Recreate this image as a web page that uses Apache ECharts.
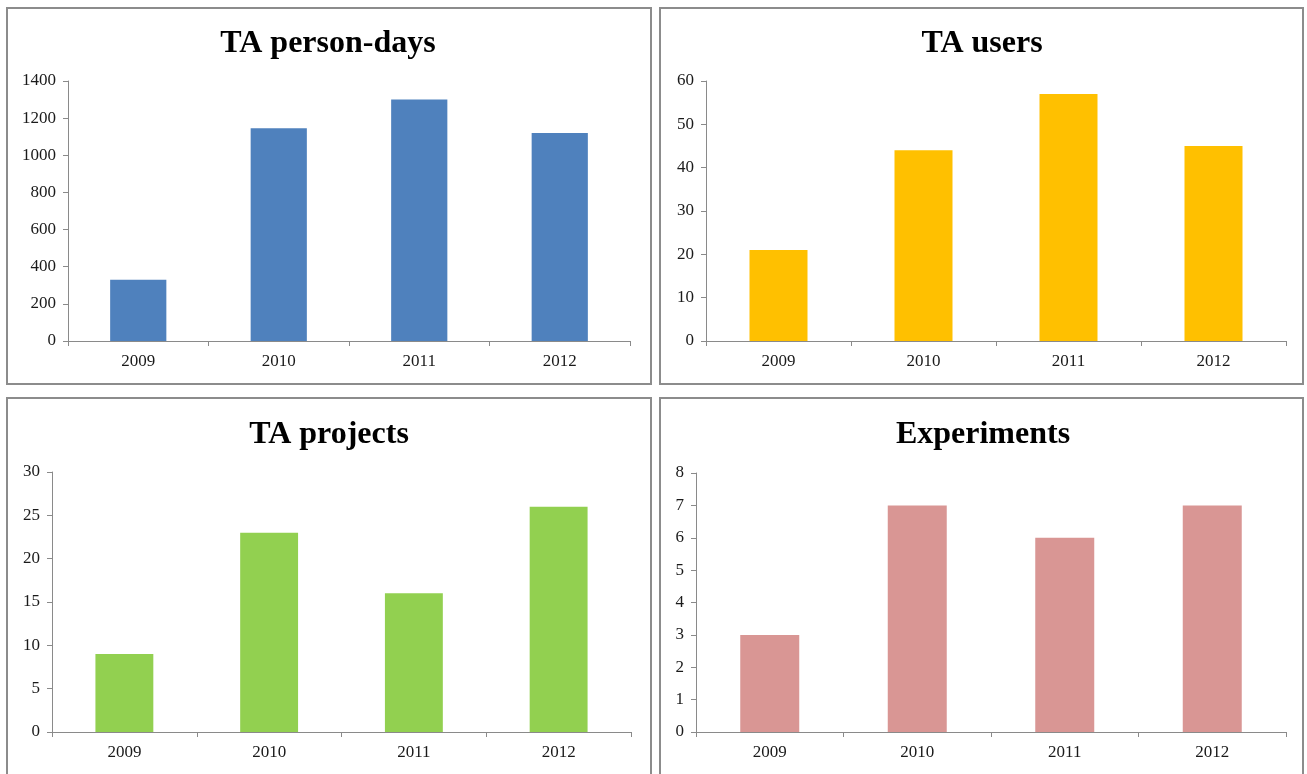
<!DOCTYPE html>
<html>
<head>
<meta charset="utf-8">
<script src="https://cdn.jsdelivr.net/npm/echarts@6/dist/echarts.min.js"></script>
<style>
html,body{margin:0;padding:0;background:#fff;}
#chart{width:1307px;height:774px;}
</style>
</head>
<body>
<div id="chart"></div>
<script>
var years = ['2009', '2010', '2011', '2012'];
var personDays = [330, 1145, 1300, 1120];
var users = [21, 44, 57, 45];
var projects = [9, 23, 16, 26];
var experiments = [3, 7, 6, 7];
var titles = ['TA person-days', 'TA users', 'TA projects', 'Experiments'];
var yMax = [1400, 60, 30, 8];
var yStep = [200, 10, 5, 1];

var seriesData = [personDays, users, projects, experiments];
var colors = ['#4F81BD', '#FFC000', '#92D050', '#D99694'];
var grids = [
  {left: 68, top: 81, width: 562, height: 260},
  {left: 706, top: 81, width: 580, height: 260},
  {left: 52, top: 472, width: 579, height: 260},
  {left: 696, top: 473, width: 590, height: 259}
];
var panels = [
  {x: 7, y: 8, w: 644, h: 376, cx: 328, ty: 42},
  {x: 660, y: 8, w: 643, h: 376, cx: 982, ty: 42},
  {x: 7, y: 398, w: 644, h: 420, cx: 329, ty: 433},
  {x: 660, y: 398, w: 643, h: 420, cx: 983, ty: 433}
];
var serif = '"Liberation Serif", "DejaVu Serif", serif';
var axisCol = '#8a8a8a';

var xAxes = [], yAxes = [], series = [], graphics = [];
for (var i = 0; i < 4; i++) {
  xAxes.push({
    type: 'category', gridIndex: i, data: years,
    axisLine: {lineStyle: {color: axisCol, width: 1}},
    axisTick: {show: true, length: 5, lineStyle: {color: axisCol}},
    axisLabel: {fontFamily: serif, fontSize: 17, color: '#1a1a1a', margin: 12}
  });
  yAxes.push({
    type: 'value', gridIndex: i, min: 0, max: yMax[i], interval: yStep[i],
    splitLine: {show: false},
    axisLine: {show: true, lineStyle: {color: axisCol, width: 1}},
    axisTick: {show: true, length: 5, lineStyle: {color: axisCol}},
    axisLabel: {fontFamily: serif, fontSize: 17, color: '#1a1a1a', margin: 12,
                formatter: function (v) { return String(v); }}
  });
  series.push({
    type: 'bar', xAxisIndex: i, yAxisIndex: i, data: seriesData[i],
    barWidth: '40%', itemStyle: {color: colors[i]}, silent: true
  });
  var p = panels[i];
  graphics.push({
    type: 'rect', shape: {x: p.x, y: p.y, width: p.w, height: p.h},
    style: {fill: null, stroke: '#8c8c8c', lineWidth: 2}, silent: true
  });
  graphics.push({
    type: 'text', x: p.cx, y: p.ty + 2,
    style: {text: titles[i], font: 'bold 32px ' + serif, fill: '#000',
            textAlign: 'center', textVerticalAlign: 'middle'}
  });
}

var chart = echarts.init(document.getElementById('chart'));
chart.setOption({
  backgroundColor: '#fff',
  animation: false,
  grid: grids,
  xAxis: xAxes,
  yAxis: yAxes,
  series: series,
  graphic: graphics
});
</script>
</body>
</html>
